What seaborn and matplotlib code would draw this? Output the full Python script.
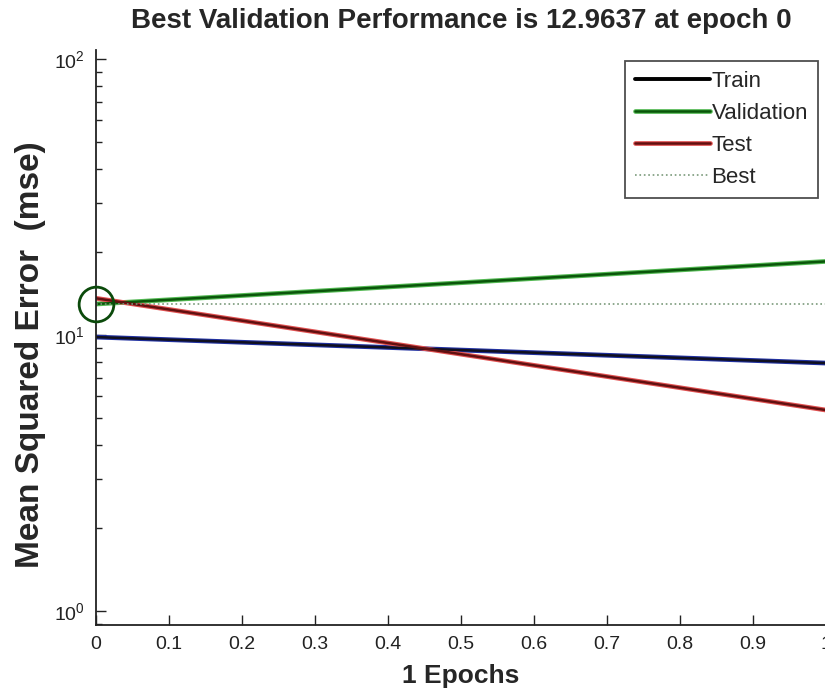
import matplotlib
matplotlib.use('Agg')
import matplotlib.pyplot as plt
from matplotlib.lines import Line2D
from matplotlib.legend_handler import HandlerTuple
import seaborn as sns
import pandas as pd

# datos (1 epoch)
epochs = [0, 1]
train = [9.84, 7.92]
validation = [12.9637, 18.5]
test = [13.6, 5.35]
best_epoch = 0
best_perf = 12.9637

x_ticks = [0, 0.1, 0.2, 0.3, 0.4, 0.5, 0.6, 0.7, 0.8, 0.9, 1]
x_tick_labels = ['0', '0.1', '0.2', '0.3', '0.4', '0.5', '0.6', '0.7', '0.8', '0.9', '1']

sns.set_style('ticks')
plt.rcParams['font.family'] = ['Liberation Sans', 'DejaVu Sans']
plt.rcParams['mathtext.fontset'] = 'custom'
plt.rcParams['mathtext.rm'] = 'Liberation Sans'

df = pd.DataFrame({
    'epoch': epochs * 3,
    'mse': train + validation + test,
    'serie': ['Train'] * 2 + ['Validation'] * 2 + ['Test'] * 2,
})

fig = plt.figure(figsize=(8.25, 6.92), dpi=100)
ax = fig.add_axes([96 / 825, 1 - 625 / 692, 730 / 825, 575 / 692])

# linea ancha de color por debajo y linea oscura encima (estilo MATLAB)
under = {'Train': '#2030a0', 'Validation': '#52b852', 'Test': '#e05050'}
over = {'Train': '#101020', 'Validation': '#0a560a', 'Test': '#621010'}
sns.lineplot(data=df, x='epoch', y='mse', hue='serie', palette=under,
             linewidth=3.4, legend=False, ax=ax)
sns.lineplot(data=df, x='epoch', y='mse', hue='serie', palette=over,
             linewidth=1.8, legend=False, ax=ax)

ax.axhline(best_perf, color='#7a9a7a', linestyle=':', linewidth=1.2)
ax.plot([best_epoch], [best_perf], 'o', markersize=25, markerfacecolor='none',
        markeredgecolor='#0b4a0b', markeredgewidth=2, clip_on=False, zorder=5)

ax.set_yscale('log')
ax.set_ylim(0.89, 108)
ax.set_xlim(0, 1)
ax.set_xticks(x_ticks)
ax.set_xticklabels(x_tick_labels)
ax.tick_params(axis='both', which='both', direction='in', labelsize=14, colors='#222222')
ax.tick_params(axis='y', which='major', length=7, width=1, pad=8)
ax.tick_params(axis='y', which='minor', length=4, width=1)
ax.tick_params(axis='x', which='major', length=7, width=1, pad=8)
for s in ['top', 'right']:
    ax.spines[s].set_visible(False)
for s in ['left', 'bottom']:
    ax.spines[s].set_color('#222222')
    ax.spines[s].set_linewidth(1.3)

ax.set_title('Best Validation Performance is 12.9637 at epoch 0',
             fontsize=20, fontweight='bold', pad=16)
ax.set_xlabel('1 Epochs', fontsize=19, fontweight='bold')
ax.set_ylabel('Mean Squared Error  (mse)', fontsize=24, fontweight='bold')
ax.yaxis.set_label_coords(-0.068, 0.47)
ax.xaxis.set_label_coords(0.5, -0.068)

handles = [
    Line2D([], [], color='black', lw=2.8),
    (Line2D([], [], color=under['Validation'], lw=3.4), Line2D([], [], color=over['Validation'], lw=1.8)),
    (Line2D([], [], color=under['Test'], lw=3.4), Line2D([], [], color=over['Test'], lw=1.8)),
    Line2D([], [], color='#7a9a7a', lw=1.2, linestyle=':'),
]
leg = ax.legend(handles, ['Train', 'Validation', 'Test', 'Best'],
                handler_map={tuple: HandlerTuple(ndivide=1, pad=0)},
                loc='upper right', bbox_to_anchor=(0.989, 0.981), fontsize=16,
                frameon=True, fancybox=False, handlelength=3.4, handletextpad=0.05,
                labelspacing=0.5, borderpad=0.45, borderaxespad=0)
leg.get_frame().set_edgecolor('#222222')
leg.get_frame().set_linewidth(1.3)

fig.savefig('out.png', dpi=100)
plt.close()
